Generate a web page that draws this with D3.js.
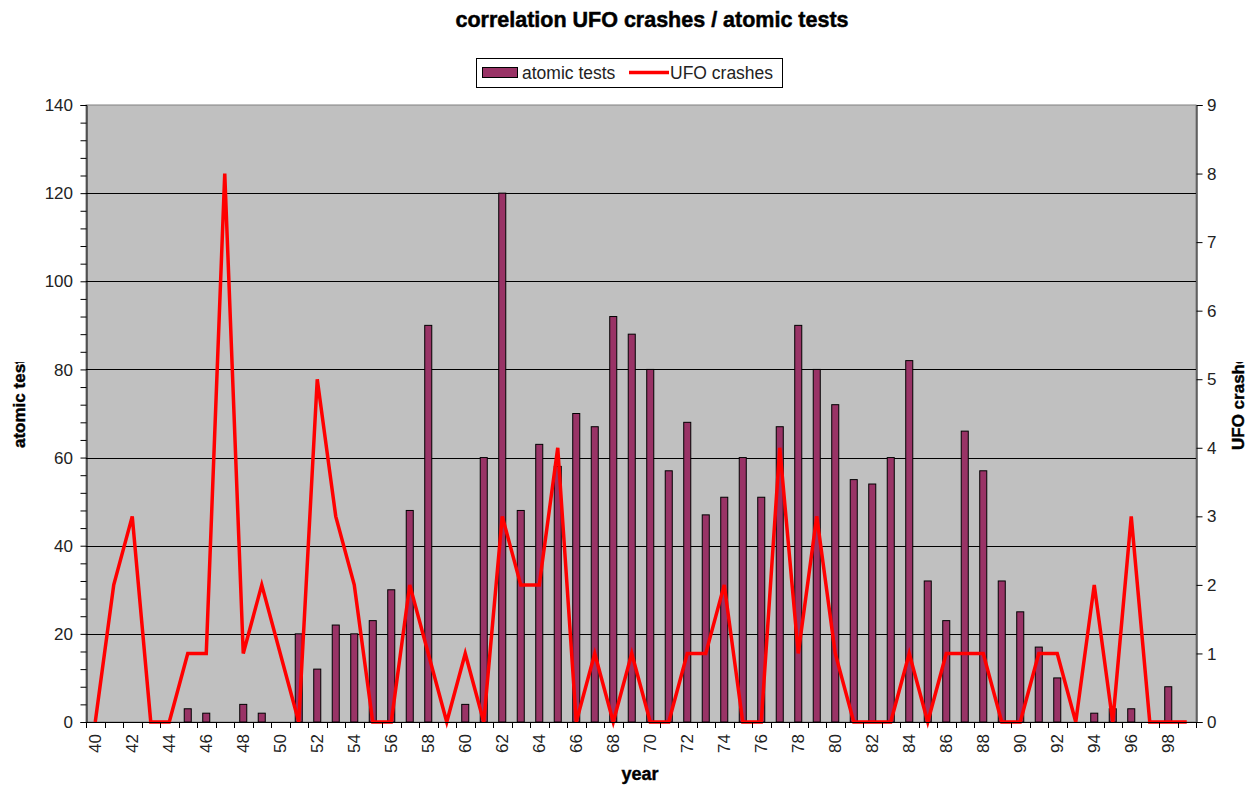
<!DOCTYPE html>
<html>
<head>
<meta charset="utf-8">
<script src="https://cdn.jsdelivr.net/npm/d3@7"></script>
<style>
  body { margin: 0; background: #fff; }
  svg { display: block; font-family: "Liberation Sans", Arial, sans-serif; }
</style>
</head>
<body>
<svg id="chart" width="1248" height="785"></svg>
<script>
// years 1940..1999, shown as two digits
const years = d3.range(40, 100);

const atomicTests = [
  0, 0, 0, 0, 0, 3, 2, 0, 4, 2,
  0, 20, 12, 22, 20, 23, 30, 48, 90, 0,
  4, 60, 120, 48, 63, 58, 70, 67, 92, 88,
  80, 57, 68, 47, 51, 60, 51, 67, 90, 80,
  72, 55, 54, 60, 82, 32, 23, 66, 57, 32,
  25, 17, 10, 0, 2, 3, 3, 0, 8, 0
];

const ufoCrashes = [
  0, 2, 3, 0, 0, 1, 1, 8, 1, 2,
  1, 0, 5, 3, 2, 0, 0, 2, 1, 0,
  1, 0, 3, 2, 2, 4, 0, 1, 0, 1,
  0, 0, 1, 1, 2, 0, 0, 4, 1, 3,
  1, 0, 0, 0, 1, 0, 1, 1, 1, 0,
  0, 1, 1, 0, 2, 0, 3, 0, 0, 0
];

const leftTicks = [0, 20, 40, 60, 80, 100, 120, 140];
const rightTicks = [0, 1, 2, 3, 4, 5, 6, 7, 8, 9];

const svg = d3.select("#chart");
const plotL = 86, plotR = 1196, plotT = 105, plotB = 722;

const x = d3.scaleBand().domain(years).range([plotL, plotR]);
const yL = d3.scaleLinear().domain([0, 140]).range([plotB, plotT]);
const yR = d3.scaleLinear().domain([0, 9]).range([plotB, plotT]);

// plot background
svg.append("rect")
  .attr("x", plotL).attr("y", plotT)
  .attr("width", plotR - plotL).attr("height", plotB - plotT)
  .attr("fill", "#c0c0c0")
  .attr("stroke", "#808080");

// gridlines
svg.append("g")
  .selectAll("line")
  .data(leftTicks.slice(1, -1))
  .join("line")
  .attr("x1", plotL).attr("x2", plotR)
  .attr("y1", (d) => Math.round(yL(d)) + 0.5).attr("y2", (d) => Math.round(yL(d)) + 0.5)
  .attr("stroke", "#000");

// bars
const barW = x.bandwidth() * 0.38;
svg.append("g")
  .selectAll("rect")
  .data(years.map((y, i) => ({ year: y, v: atomicTests[i] })).filter((d) => d.v > 0))
  .join("rect")
  .attr("x", (d) => x(d.year) + (x.bandwidth() - barW) / 2)
  .attr("y", (d) => yL(d.v))
  .attr("width", barW)
  .attr("height", (d) => plotB - yL(d.v))
  .attr("fill", "#993366")
  .attr("stroke", "#000")
  .attr("stroke-width", 1);

// UFO line
const line = d3.line()
  .x((d, i) => x(years[i]) + x.bandwidth() / 2)
  .y((d) => yR(d));
svg.append("path")
  .datum(ufoCrashes)
  .attr("d", line)
  .attr("fill", "none")
  .attr("stroke", "#ff0000")
  .attr("stroke-width", 3.5)
  .attr("stroke-linejoin", "miter");

// left axis
const axL = svg.append("g").attr("transform", `translate(${plotL + 0.5},0)`);
axL.call(d3.axisLeft(yL).tickValues(d3.range(0, 141, 4)).tickSize(6).tickFormat(""));
axL.select(".domain").attr("stroke", "#000");
axL.selectAll(".tick line").attr("stroke", "#000");
svg.append("g")
  .selectAll("text")
  .data(leftTicks)
  .join("text")
  .attr("x", 73)
  .attr("y", (d) => yL(d))
  .attr("dy", "0.36em")
  .attr("text-anchor", "end")
  .attr("font-size", 17)
  .attr("fill", "#222")
  .text((d) => d);

// right axis
const axR = svg.append("g").attr("transform", `translate(${plotR + 0.5},0)`);
axR.call(d3.axisRight(yR).tickValues(rightTicks).tickSize(6).tickFormat(""));
axR.select(".domain").attr("stroke", "#000");
axR.selectAll(".tick line").attr("stroke", "#000");
svg.append("g")
  .selectAll("text")
  .data(rightTicks)
  .join("text")
  .attr("x", 1207)
  .attr("y", (d) => yR(d))
  .attr("dy", "0.36em")
  .attr("font-size", 17)
  .attr("fill", "#222")
  .text((d) => d);

// x axis: ticks between categories
const bounds = years.map((y) => x(y)).concat([plotR]);
svg.append("line")
  .attr("x1", plotL).attr("x2", plotR)
  .attr("y1", plotB + 0.5).attr("y2", plotB + 0.5)
  .attr("stroke", "#000");
svg.append("g")
  .selectAll("line")
  .data(bounds)
  .join("line")
  .attr("x1", (d) => Math.round(d) + 0.5).attr("x2", (d) => Math.round(d) + 0.5)
  .attr("y1", plotB).attr("y2", plotB + 6)
  .attr("stroke", "#000");
svg.append("g")
  .selectAll("text")
  .data(years.filter((y) => y % 2 === 0))
  .join("text")
  .attr("transform", (d) => `translate(${x(d) + x.bandwidth() / 2},734) rotate(-90)`)
  .attr("dy", "0.36em")
  .attr("text-anchor", "end")
  .attr("font-size", 17)
  .attr("fill", "#222")
  .text((d) => d);

// titles
svg.append("text")
  .attr("x", 652).attr("y", 27)
  .attr("text-anchor", "middle")
  .attr("font-size", 21.5).attr("font-weight", "bold")
  .attr("stroke", "#000").attr("stroke-width", 0.5)
  .text("correlation UFO crashes / atomic tests");

svg.append("text")
  .attr("x", 640).attr("y", 780)
  .attr("text-anchor", "middle")
  .attr("font-size", 18).attr("font-weight", "bold")
  .attr("stroke", "#000").attr("stroke-width", 0.4)
  .text("year");

// clipped vertical axis titles
svg.append("clipPath").attr("id", "axtClip")
  .append("rect").attr("x", 0).attr("y", 362).attr("width", 1248).attr("height", 200);

svg.append("g").attr("clip-path", "url(#axtClip)")
  .append("text")
  .attr("transform", "translate(25,448) rotate(-90)")
  .attr("font-size", 17).attr("font-weight", "bold")
  .attr("stroke", "#000").attr("stroke-width", 0.4)
  .text("atomic tests");

svg.append("g").attr("clip-path", "url(#axtClip)")
  .append("text")
  .attr("transform", "translate(1244,450) rotate(-90)")
  .attr("font-size", 17).attr("font-weight", "bold")
  .attr("stroke", "#000").attr("stroke-width", 0.4)
  .text("UFO crashes");

// legend
const lg = svg.append("g");
lg.append("rect")
  .attr("x", 476.5).attr("y", 58.5).attr("width", 306).attr("height", 29)
  .attr("fill", "#fff").attr("stroke", "#000");
lg.append("rect")
  .attr("x", 482.5).attr("y", 67.5).attr("width", 35).attr("height", 10)
  .attr("fill", "#993366").attr("stroke", "#000");
lg.append("text")
  .attr("x", 522).attr("y", 73).attr("dy", "0.36em")
  .attr("font-size", 17.5).attr("fill", "#222")
  .text("atomic tests");
lg.append("line")
  .attr("x1", 629).attr("x2", 669).attr("y1", 72.5).attr("y2", 72.5)
  .attr("stroke", "#ff0000").attr("stroke-width", 3.5);
lg.append("text")
  .attr("x", 670).attr("y", 73).attr("dy", "0.36em")
  .attr("font-size", 17.5).attr("fill", "#222")
  .text("UFO crashes");
</script>
</body>
</html>
